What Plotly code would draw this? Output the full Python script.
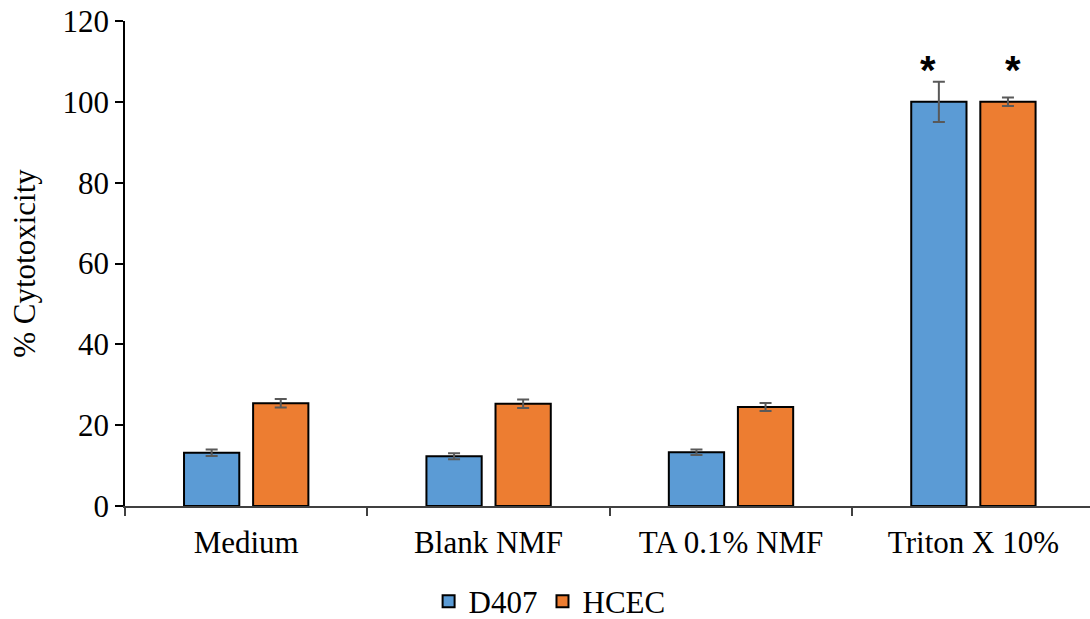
import plotly.graph_objects as go

# Treatments and measured cytotoxicity (%) with standard deviations
categories = ["Medium", "Blank NMF", "TA 0.1% NMF", "Triton X 10%"]
d407_values = [13.2, 12.3, 13.3, 100.0]
d407_errors = [0.8, 0.75, 0.7, 5.0]
hcec_values = [25.4, 25.3, 24.5, 100.0]
hcec_errors = [1.05, 1.05, 1.0, 1.05]
significance = ["", "", "", "*"]
y_ticks = [0, 20, 40, 60, 80, 100, 120]

FONT = "Liberation Serif, Times New Roman, serif"
FS = 31
BLUE = "#5B9BD5"
ORANGE = "#ED7D31"
ERR = "#595959"

fig = go.Figure()
for name, vals, errs, color in [
    ("D407", d407_values, d407_errors, BLUE),
    ("HCEC", hcec_values, hcec_errors, ORANGE),
]:
    fig.add_trace(go.Bar(
        name=name, x=categories, y=vals,
        marker=dict(color=color, line=dict(color="black", width=2)),
        error_y=dict(type="data", array=errs, visible=True,
                     color=ERR, thickness=2, width=6),
    ))

# Significance markers above the Triton X bars
for cat, mark in zip(categories, significance):
    if not mark:
        continue
    for shift in (-45, 40):
        fig.add_annotation(
            x=cat, y=107.8, text="<b>" + mark + "</b>", showarrow=False,
            xshift=shift, yanchor="middle",
            font=dict(family="Liberation Sans, Arial, sans-serif",
                      size=40, color="black"),
        )

fig.update_layout(
    width=1090, height=619,
    margin=dict(l=125, r=0, t=21, b=113, autoexpand=False),
    paper_bgcolor="white", plot_bgcolor="white",
    barmode="group", bargap=0.43, bargroupgap=0.2,
    font=dict(family=FONT, size=FS, color="black"),
    showlegend=True,
    legend=dict(orientation="h", x=0.44, xanchor="center",
                y=-0.197, yanchor="middle",
                font=dict(family=FONT, size=FS, color="black"),
                itemwidth=30, tracegroupgap=0),
)
fig.update_xaxes(
    type="category", range=[-0.5, 3.481],
    showline=True, linecolor="#404040", linewidth=1.5,
    ticks="outside", tickson="boundaries", ticklen=8,
    tickcolor="#404040", tickwidth=1.5, ticklabelstandoff=8,
    showgrid=False, zeroline=False,
    tickfont=dict(family=FONT, size=FS, color="black"),
)
fig.update_yaxes(
    range=[0, 120], tickvals=y_ticks,
    showline=True, linecolor="black", linewidth=1.5,
    ticks="outside", ticklen=8, tickcolor="black", tickwidth=1.5,
    showgrid=False, zeroline=False,
    tickfont=dict(family=FONT, size=FS, color="black"),
    title=dict(text="% Cytotoxicity", standoff=18,
               font=dict(family=FONT, size=FS, color="black")),
)

fig.write_html("out.html")
